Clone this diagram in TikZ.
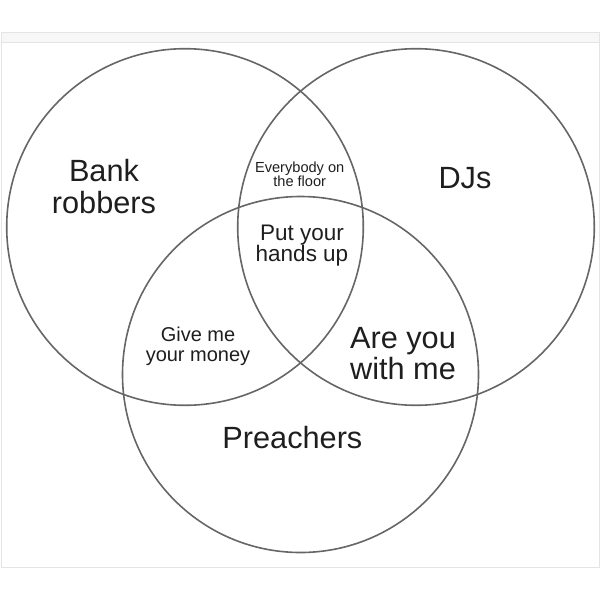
\documentclass[tikz,border=0pt]{standalone}
\usepackage{fontspec}
\setmainfont{Liberation Sans}
\definecolor{ring}{HTML}{666666}
\definecolor{ink}{HTML}{1E1E1E}
\definecolor{frameline}{HTML}{E4E4E4}
\definecolor{band}{HTML}{F7F7F7}
\begin{document}
\begin{tikzpicture}[x=1pt,y=-1pt,
  ringline/.style={draw=ring,line width=1.6pt},
  lbl/.style={inner sep=0pt,align=center,text=ink,anchor=base},
  big/.style={lbl,font=\fontsize{30.7}{31.3}\selectfont},
  mid/.style={lbl,font=\fontsize{22.5}{21.7}\selectfont},
  sml/.style={lbl,font=\fontsize{20}{19.5}\selectfont},
  tiny/.style={lbl,font=\fontsize{14.6}{13.4}\selectfont}]
\useasboundingbox (0,0) rectangle (600,600);
% frame
\fill[band] (1,32) rectangle (599,42);
\draw[frameline,line width=0.8pt] (1,42) -- (599,42);
\draw[frameline,line width=1pt] (1,32) rectangle (599,567);
% circles
\coordinate (cL) at (185,227);
\coordinate (cR) at (416,227);
\coordinate (cB) at (300.5,374.5);
\draw[ringline] (cL) circle[radius=178.3];
\draw[ringline] (cR) circle[radius=178.3];
\draw[ringline] (cB) circle[radius=178];
% labels (base anchor = baseline of the last line)
\node[big] (bank) at (104,213) {Bank\\robbers};
\node[big] (djs) at (465,188.3) {DJs};
\node[tiny] (floor) at (299.7,186.7) {Everybody on\\the floor};
\node[mid] (hands) at (302,261.7) {Put your\\hands up};
\node[sml] (money) at (198,361) {Give me\\your money};
\node[big] (withme) at (403,379.3) {Are you\\with me};
\node[big] (preach) at (292.4,448.3) {Preachers};
\end{tikzpicture}
\end{document}
